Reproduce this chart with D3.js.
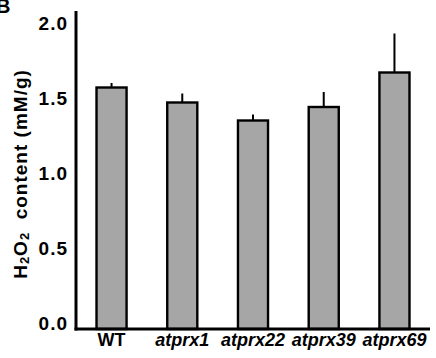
<!DOCTYPE html>
<html>
<head>
<meta charset="utf-8">
<script src="https://cdn.jsdelivr.net/npm/d3@7"></script>
<style>
  body { margin: 0; background: #fff; }
  text { font-family: Arial, "Liberation Sans", sans-serif; font-weight: bold; }
</style>
</head>
<body>
<div id="chart"></div>
<script>
// ===========Data
var lines = ["WT", "atprx1", "atprx22", "atprx39", "atprx69"];
var h2o2 = [1.57, 1.47, 1.35, 1.44, 1.67];
var errUpper = [0.03, 0.06, 0.04, 0.10, 0.26];
var yTicks = [0, 0.5, 1.0, 1.5, 2.0];

// ===========Set Height, Width and Margins
var svgWidth = 436;
var svgHeight = 358;

var svg = d3.select("#chart").append("svg")
    .attr("width", svgWidth)
    .attr("height", svgHeight);

// ==========Scales
var xScale = d3.scaleBand()
    .domain(lines)
    .range([76, 430])
    .paddingInner(0.575)
    .paddingOuter(0.29);

var yScale = d3.scaleLinear()
    .domain([-0.04, 2.08])
    .range([329, 11]);

var baseY = yScale(-0.04);

// ===========Bars
svg.selectAll("rect.bar")
    .data(lines)
    .enter()
    .append("rect")
    .attr("class", "bar")
    .attr("x", d => xScale(d))
    .attr("y", (d, i) => yScale(h2o2[i]))
    .attr("width", xScale.bandwidth())
    .attr("height", (d, i) => baseY - yScale(h2o2[i]))
    .attr("fill", "#a6a6a6")
    .attr("stroke", "#000")
    .attr("stroke-width", 2.4);

// ===========Error bars (upper only)
svg.selectAll("line.err")
    .data(lines)
    .enter()
    .append("line")
    .attr("class", "err")
    .attr("x1", d => xScale(d) + xScale.bandwidth() / 2)
    .attr("x2", d => xScale(d) + xScale.bandwidth() / 2)
    .attr("y1", (d, i) => yScale(h2o2[i]))
    .attr("y2", (d, i) => yScale(h2o2[i] + errUpper[i]))
    .attr("stroke", "#000")
    .attr("stroke-width", 2);

// ===========Axes
var leftAxis = d3.axisLeft(yScale)
    .tickValues(yTicks)
    .tickSize(0)
    .tickPadding(8)
    .tickFormat(d3.format(".1f"));

var yAxis = svg.append("g")
    .attr("transform", "translate(76,0)")
    .call(leftAxis);

yAxis.select(".domain").remove();
yAxis.selectAll("text")
    .attr("font-size", 19)
    .attr("letter-spacing", 1)
    .attr("fill", "#000");

svg.append("line")
    .attr("x1", 76).attr("x2", 76)
    .attr("y1", yScale(2.08)).attr("y2", baseY + 1.5)
    .attr("stroke", "#000")
    .attr("stroke-width", 3);

svg.append("line")
    .attr("x1", 74.5).attr("x2", 430)
    .attr("y1", baseY).attr("y2", baseY)
    .attr("stroke", "#000")
    .attr("stroke-width", 3);

// ===========X labels
svg.selectAll("text.xlab")
    .data(lines)
    .enter()
    .append("text")
    .attr("class", "xlab")
    .attr("x", d => xScale(d) + xScale.bandwidth() / 2)
    .attr("y", 346)
    .attr("text-anchor", "middle")
    .attr("font-size", 18)
    .attr("font-style", d => d === "WT" ? "normal" : "italic")
    .text(d => d);

// ===========Y label with subscripts
var ylab = svg.append("text")
    .attr("transform", "translate(27,174) rotate(-90)")
    .attr("text-anchor", "middle")
    .attr("font-size", 19)
    .attr("letter-spacing", 1);

ylab.append("tspan").text("H");
ylab.append("tspan").attr("font-size", 13).attr("dy", 2).text("2");
ylab.append("tspan").attr("dy", -2).text("O");
ylab.append("tspan").attr("font-size", 13).attr("dy", 2).text("2");
ylab.append("tspan").attr("dy", -2).text("\u00a0\u00a0content (mM/g)");

// ===========Panel letter
svg.append("text")
    .attr("x", -4)
    .attr("y", 13)
    .attr("font-size", 20)
    .text("B");
</script>
</body>
</html>
